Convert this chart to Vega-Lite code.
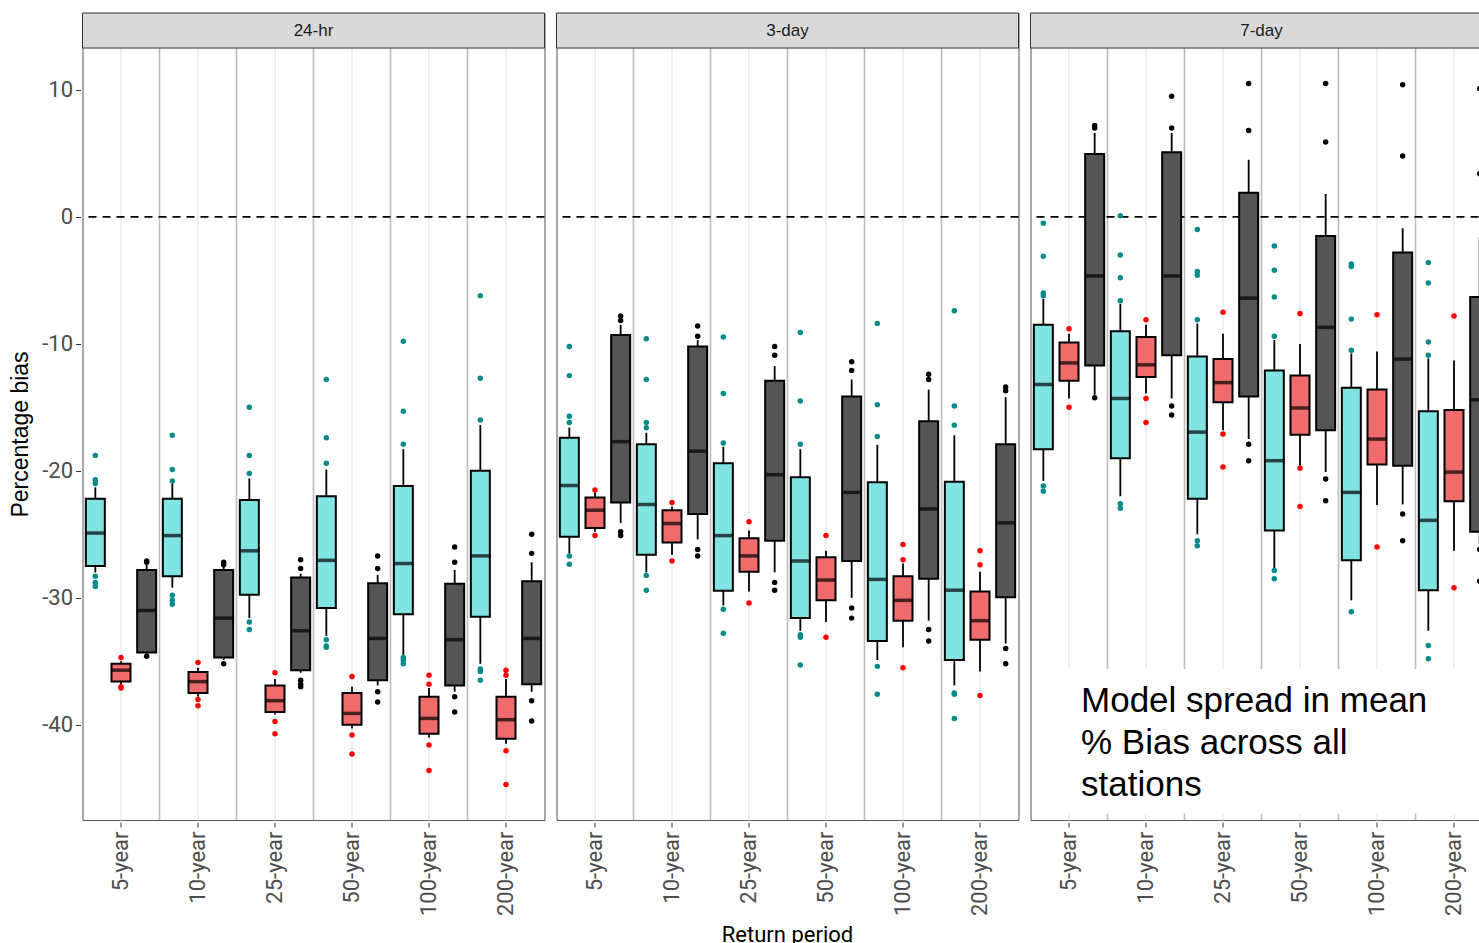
{
  "$schema": "https://vega.github.io/schema/vega-lite/v6.json",
  "padding": {"left": 9.5, "top": 12, "right": 0, "bottom": 0},
  "title": {"text": "Preliminary information", "orient": "bottom", "anchor": "end", "font": "Liberation Sans", "fontSize": 28, "fontWeight": "normal", "color": "#000000", "offset": -4, "dx": -8},
  "data": {"values": [
    {"kind":"strip","duration":"24-hr"},
    {"kind":"strip","duration":"3-day"},
    {"kind":"strip","duration":"7-day"},
    {"kind":"note","duration":"7-day","label":["Model spread in mean","% Bias across all","stations"]},

    {"kind":"box","duration":"24-hr","period":"5-year","model":"M1","lower":-28.0,"q1":-27.5,"median":-24.9,"q3":-22.2,"upper":-21.3},
    {"kind":"box","duration":"24-hr","period":"5-year","model":"M2","lower":-36.8,"q1":-36.6,"median":-35.7,"q3":-35.2,"upper":-35.0},
    {"kind":"box","duration":"24-hr","period":"5-year","model":"M3","lower":-34.4,"q1":-34.3,"median":-31.0,"q3":-27.8,"upper":-27.4},
    {"kind":"box","duration":"24-hr","period":"10-year","model":"M1","lower":-29.2,"q1":-28.3,"median":-25.1,"q3":-22.2,"upper":-21.0},
    {"kind":"box","duration":"24-hr","period":"10-year","model":"M2","lower":-37.8,"q1":-37.5,"median":-36.6,"q3":-35.85,"upper":-35.5},
    {"kind":"box","duration":"24-hr","period":"10-year","model":"M3","lower":-34.9,"q1":-34.7,"median":-31.6,"q3":-27.8,"upper":-27.5},
    {"kind":"box","duration":"24-hr","period":"25-year","model":"M1","lower":-31.6,"q1":-29.75,"median":-26.3,"q3":-22.3,"upper":-20.6},
    {"kind":"box","duration":"24-hr","period":"25-year","model":"M2","lower":-39.2,"q1":-39.0,"median":-38.1,"q3":-36.9,"upper":-36.4},
    {"kind":"box","duration":"24-hr","period":"25-year","model":"M3","lower":-35.9,"q1":-35.7,"median":-32.6,"q3":-28.4,"upper":-28.1},
    {"kind":"box","duration":"24-hr","period":"50-year","model":"M1","lower":-33.0,"q1":-30.8,"median":-27.05,"q3":-22.0,"upper":-19.9},
    {"kind":"box","duration":"24-hr","period":"50-year","model":"M2","lower":-40.3,"q1":-40.0,"median":-39.1,"q3":-37.5,"upper":-37.0},
    {"kind":"box","duration":"24-hr","period":"50-year","model":"M3","lower":-36.9,"q1":-36.5,"median":-33.2,"q3":-28.85,"upper":-28.2},
    {"kind":"box","duration":"24-hr","period":"100-year","model":"M1","lower":-34.5,"q1":-31.3,"median":-27.3,"q3":-21.2,"upper":-18.3},
    {"kind":"box","duration":"24-hr","period":"100-year","model":"M2","lower":-41.0,"q1":-40.7,"median":-39.5,"q3":-37.8,"upper":-37.1},
    {"kind":"box","duration":"24-hr","period":"100-year","model":"M3","lower":-37.4,"q1":-36.9,"median":-33.3,"q3":-28.9,"upper":-27.8},
    {"kind":"box","duration":"24-hr","period":"200-year","model":"M1","lower":-35.2,"q1":-31.5,"median":-26.7,"q3":-20.0,"upper":-16.4},
    {"kind":"box","duration":"24-hr","period":"200-year","model":"M2","lower":-41.5,"q1":-41.1,"median":-39.6,"q3":-37.8,"upper":-36.4},
    {"kind":"box","duration":"24-hr","period":"200-year","model":"M3","lower":-37.4,"q1":-36.8,"median":-33.2,"q3":-28.7,"upper":-27.2},

    {"kind":"box","duration":"3-day","period":"5-year","model":"M1","lower":-26.5,"q1":-25.2,"median":-21.15,"q3":-17.4,"upper":-16.6},
    {"kind":"box","duration":"3-day","period":"5-year","model":"M2","lower":-24.8,"q1":-24.5,"median":-23.1,"q3":-22.1,"upper":-21.7},
    {"kind":"box","duration":"3-day","period":"5-year","model":"M3","lower":-24.1,"q1":-22.5,"median":-17.7,"q3":-9.3,"upper":-8.5},
    {"kind":"box","duration":"3-day","period":"10-year","model":"M1","lower":-28.0,"q1":-26.6,"median":-22.65,"q3":-17.9,"upper":-17.0},
    {"kind":"box","duration":"3-day","period":"10-year","model":"M2","lower":-26.6,"q1":-25.65,"median":-24.15,"q3":-23.1,"upper":-22.8},
    {"kind":"box","duration":"3-day","period":"10-year","model":"M3","lower":-25.4,"q1":-23.4,"median":-18.45,"q3":-10.2,"upper":-9.7},
    {"kind":"box","duration":"3-day","period":"25-year","model":"M1","lower":-30.6,"q1":-29.45,"median":-25.1,"q3":-19.4,"upper":-18.1},
    {"kind":"box","duration":"3-day","period":"25-year","model":"M2","lower":-29.5,"q1":-27.95,"median":-26.7,"q3":-25.3,"upper":-24.7},
    {"kind":"box","duration":"3-day","period":"25-year","model":"M3","lower":-28.0,"q1":-25.5,"median":-20.3,"q3":-12.9,"upper":-11.75},
    {"kind":"box","duration":"3-day","period":"50-year","model":"M1","lower":-32.6,"q1":-31.6,"median":-27.1,"q3":-20.5,"upper":-18.3},
    {"kind":"box","duration":"3-day","period":"50-year","model":"M2","lower":-31.9,"q1":-30.2,"median":-28.6,"q3":-26.8,"upper":-26.3},
    {"kind":"box","duration":"3-day","period":"50-year","model":"M3","lower":-30.0,"q1":-27.1,"median":-21.7,"q3":-14.15,"upper":-12.8},
    {"kind":"box","duration":"3-day","period":"100-year","model":"M1","lower":-34.9,"q1":-33.4,"median":-28.55,"q3":-20.9,"upper":-17.95},
    {"kind":"box","duration":"3-day","period":"100-year","model":"M2","lower":-33.9,"q1":-31.8,"median":-30.2,"q3":-28.3,"upper":-27.3},
    {"kind":"box","duration":"3-day","period":"100-year","model":"M3","lower":-31.8,"q1":-28.5,"median":-23.0,"q3":-16.1,"upper":-13.6},
    {"kind":"box","duration":"3-day","period":"200-year","model":"M1","lower":-36.9,"q1":-34.9,"median":-29.4,"q3":-20.85,"upper":-17.2},
    {"kind":"box","duration":"3-day","period":"200-year","model":"M2","lower":-35.8,"q1":-33.3,"median":-31.8,"q3":-29.5,"upper":-27.95},
    {"kind":"box","duration":"3-day","period":"200-year","model":"M3","lower":-33.6,"q1":-29.95,"median":-24.1,"q3":-17.9,"upper":-14.2},

    {"kind":"box","duration":"7-day","period":"5-year","model":"M1","lower":-20.8,"q1":-18.3,"median":-13.2,"q3":-8.5,"upper":-6.45},
    {"kind":"box","duration":"7-day","period":"5-year","model":"M2","lower":-14.3,"q1":-12.9,"median":-11.5,"q3":-9.9,"upper":-9.2},
    {"kind":"box","duration":"7-day","period":"5-year","model":"M3","lower":-14.0,"q1":-11.7,"median":-4.65,"q3":4.96,"upper":6.6},
    {"kind":"box","duration":"7-day","period":"10-year","model":"M1","lower":-22.0,"q1":-19.0,"median":-14.3,"q3":-9.0,"upper":-6.85},
    {"kind":"box","duration":"7-day","period":"10-year","model":"M2","lower":-13.9,"q1":-12.6,"median":-11.65,"q3":-9.45,"upper":-8.5},
    {"kind":"box","duration":"7-day","period":"10-year","model":"M3","lower":-14.3,"q1":-10.9,"median":-4.65,"q3":5.1,"upper":6.6},
    {"kind":"box","duration":"7-day","period":"25-year","model":"M1","lower":-25.0,"q1":-22.2,"median":-16.95,"q3":-11.0,"upper":-8.4},
    {"kind":"box","duration":"7-day","period":"25-year","model":"M2","lower":-16.8,"q1":-14.6,"median":-13.05,"q3":-11.2,"upper":-9.2},
    {"kind":"box","duration":"7-day","period":"25-year","model":"M3","lower":-17.5,"q1":-14.15,"median":-6.4,"q3":1.9,"upper":4.5},
    {"kind":"box","duration":"7-day","period":"50-year","model":"M1","lower":-27.65,"q1":-24.7,"median":-19.2,"q3":-12.1,"upper":-9.7},
    {"kind":"box","duration":"7-day","period":"50-year","model":"M2","lower":-19.6,"q1":-17.15,"median":-15.05,"q3":-12.5,"upper":-10.0},
    {"kind":"box","duration":"7-day","period":"50-year","model":"M3","lower":-20.1,"q1":-16.8,"median":-8.7,"q3":-1.5,"upper":1.8},
    {"kind":"box","duration":"7-day","period":"100-year","model":"M1","lower":-30.2,"q1":-27.05,"median":-21.7,"q3":-13.45,"upper":-10.75},
    {"kind":"box","duration":"7-day","period":"100-year","model":"M2","lower":-22.7,"q1":-19.5,"median":-17.5,"q3":-13.6,"upper":-10.6},
    {"kind":"box","duration":"7-day","period":"100-year","model":"M3","lower":-22.65,"q1":-19.6,"median":-11.2,"q3":-2.8,"upper":-0.9},
    {"kind":"box","duration":"7-day","period":"200-year","model":"M1","lower":-32.6,"q1":-29.4,"median":-23.9,"q3":-15.3,"upper":-11.15},
    {"kind":"box","duration":"7-day","period":"200-year","model":"M2","lower":-26.3,"q1":-22.4,"median":-20.1,"q3":-15.2,"upper":-11.3},
    {"kind":"box","duration":"7-day","period":"200-year","model":"M3","lower":-25.8,"q1":-24.8,"median":-14.4,"q3":-6.3,"upper":-1.6},

    {"kind":"out","duration":"24-hr","period":"5-year","model":"M1","value":-18.8},
    {"kind":"out","duration":"24-hr","period":"5-year","model":"M1","value":-20.7},
    {"kind":"out","duration":"24-hr","period":"5-year","model":"M1","value":-21.0},
    {"kind":"out","duration":"24-hr","period":"5-year","model":"M1","value":-28.3},
    {"kind":"out","duration":"24-hr","period":"5-year","model":"M1","value":-28.8},
    {"kind":"out","duration":"24-hr","period":"5-year","model":"M1","value":-29.1},
    {"kind":"out","duration":"24-hr","period":"5-year","model":"M2","value":-34.7},
    {"kind":"out","duration":"24-hr","period":"5-year","model":"M2","value":-37.0},
    {"kind":"out","duration":"24-hr","period":"5-year","model":"M2","value":-37.1},
    {"kind":"out","duration":"24-hr","period":"5-year","model":"M3","value":-27.1},
    {"kind":"out","duration":"24-hr","period":"5-year","model":"M3","value":-27.2},
    {"kind":"out","duration":"24-hr","period":"5-year","model":"M3","value":-34.6},
    {"kind":"out","duration":"24-hr","period":"10-year","model":"M1","value":-17.2},
    {"kind":"out","duration":"24-hr","period":"10-year","model":"M1","value":-19.9},
    {"kind":"out","duration":"24-hr","period":"10-year","model":"M1","value":-20.8},
    {"kind":"out","duration":"24-hr","period":"10-year","model":"M1","value":-29.8},
    {"kind":"out","duration":"24-hr","period":"10-year","model":"M1","value":-30.2},
    {"kind":"out","duration":"24-hr","period":"10-year","model":"M1","value":-30.5},
    {"kind":"out","duration":"24-hr","period":"10-year","model":"M2","value":-35.1},
    {"kind":"out","duration":"24-hr","period":"10-year","model":"M2","value":-38.0},
    {"kind":"out","duration":"24-hr","period":"10-year","model":"M2","value":-38.5},
    {"kind":"out","duration":"24-hr","period":"10-year","model":"M3","value":-27.2},
    {"kind":"out","duration":"24-hr","period":"10-year","model":"M3","value":-27.4},
    {"kind":"out","duration":"24-hr","period":"10-year","model":"M3","value":-35.2},
    {"kind":"out","duration":"24-hr","period":"25-year","model":"M1","value":-15.0},
    {"kind":"out","duration":"24-hr","period":"25-year","model":"M1","value":-18.8},
    {"kind":"out","duration":"24-hr","period":"25-year","model":"M1","value":-20.2},
    {"kind":"out","duration":"24-hr","period":"25-year","model":"M1","value":-31.9},
    {"kind":"out","duration":"24-hr","period":"25-year","model":"M1","value":-32.5},
    {"kind":"out","duration":"24-hr","period":"25-year","model":"M2","value":-35.9},
    {"kind":"out","duration":"24-hr","period":"25-year","model":"M2","value":-39.75},
    {"kind":"out","duration":"24-hr","period":"25-year","model":"M2","value":-40.7},
    {"kind":"out","duration":"24-hr","period":"25-year","model":"M3","value":-27.0},
    {"kind":"out","duration":"24-hr","period":"25-year","model":"M3","value":-27.7},
    {"kind":"out","duration":"24-hr","period":"25-year","model":"M3","value":-36.5},
    {"kind":"out","duration":"24-hr","period":"25-year","model":"M3","value":-36.8},
    {"kind":"out","duration":"24-hr","period":"25-year","model":"M3","value":-37.0},
    {"kind":"out","duration":"24-hr","period":"50-year","model":"M1","value":-12.8},
    {"kind":"out","duration":"24-hr","period":"50-year","model":"M1","value":-17.4},
    {"kind":"out","duration":"24-hr","period":"50-year","model":"M1","value":-19.4},
    {"kind":"out","duration":"24-hr","period":"50-year","model":"M1","value":-33.3},
    {"kind":"out","duration":"24-hr","period":"50-year","model":"M1","value":-33.8},
    {"kind":"out","duration":"24-hr","period":"50-year","model":"M1","value":-33.9},
    {"kind":"out","duration":"24-hr","period":"50-year","model":"M2","value":-36.2},
    {"kind":"out","duration":"24-hr","period":"50-year","model":"M2","value":-40.8},
    {"kind":"out","duration":"24-hr","period":"50-year","model":"M2","value":-42.3},
    {"kind":"out","duration":"24-hr","period":"50-year","model":"M3","value":-26.7},
    {"kind":"out","duration":"24-hr","period":"50-year","model":"M3","value":-27.7},
    {"kind":"out","duration":"24-hr","period":"50-year","model":"M3","value":-37.4},
    {"kind":"out","duration":"24-hr","period":"50-year","model":"M3","value":-38.2},
    {"kind":"out","duration":"24-hr","period":"100-year","model":"M1","value":-9.8},
    {"kind":"out","duration":"24-hr","period":"100-year","model":"M1","value":-15.3},
    {"kind":"out","duration":"24-hr","period":"100-year","model":"M1","value":-17.9},
    {"kind":"out","duration":"24-hr","period":"100-year","model":"M1","value":-34.7},
    {"kind":"out","duration":"24-hr","period":"100-year","model":"M1","value":-34.9},
    {"kind":"out","duration":"24-hr","period":"100-year","model":"M1","value":-35.2},
    {"kind":"out","duration":"24-hr","period":"100-year","model":"M2","value":-36.1},
    {"kind":"out","duration":"24-hr","period":"100-year","model":"M2","value":-36.8},
    {"kind":"out","duration":"24-hr","period":"100-year","model":"M2","value":-41.6},
    {"kind":"out","duration":"24-hr","period":"100-year","model":"M2","value":-43.6},
    {"kind":"out","duration":"24-hr","period":"100-year","model":"M3","value":-26.0},
    {"kind":"out","duration":"24-hr","period":"100-year","model":"M3","value":-27.2},
    {"kind":"out","duration":"24-hr","period":"100-year","model":"M3","value":-37.8},
    {"kind":"out","duration":"24-hr","period":"100-year","model":"M3","value":-39.0},
    {"kind":"out","duration":"24-hr","period":"200-year","model":"M1","value":-6.2},
    {"kind":"out","duration":"24-hr","period":"200-year","model":"M1","value":-12.7},
    {"kind":"out","duration":"24-hr","period":"200-year","model":"M1","value":-16.0},
    {"kind":"out","duration":"24-hr","period":"200-year","model":"M1","value":-35.6},
    {"kind":"out","duration":"24-hr","period":"200-year","model":"M1","value":-35.8},
    {"kind":"out","duration":"24-hr","period":"200-year","model":"M1","value":-36.5},
    {"kind":"out","duration":"24-hr","period":"200-year","model":"M2","value":-35.7},
    {"kind":"out","duration":"24-hr","period":"200-year","model":"M2","value":-36.1},
    {"kind":"out","duration":"24-hr","period":"200-year","model":"M2","value":-42.05},
    {"kind":"out","duration":"24-hr","period":"200-year","model":"M2","value":-44.7},
    {"kind":"out","duration":"24-hr","period":"200-year","model":"M3","value":-25.0},
    {"kind":"out","duration":"24-hr","period":"200-year","model":"M3","value":-26.5},
    {"kind":"out","duration":"24-hr","period":"200-year","model":"M3","value":-38.1},
    {"kind":"out","duration":"24-hr","period":"200-year","model":"M3","value":-39.7},

    {"kind":"out","duration":"3-day","period":"5-year","model":"M1","value":-10.2},
    {"kind":"out","duration":"3-day","period":"5-year","model":"M1","value":-12.5},
    {"kind":"out","duration":"3-day","period":"5-year","model":"M1","value":-15.7},
    {"kind":"out","duration":"3-day","period":"5-year","model":"M1","value":-16.2},
    {"kind":"out","duration":"3-day","period":"5-year","model":"M1","value":-26.7},
    {"kind":"out","duration":"3-day","period":"5-year","model":"M1","value":-27.35},
    {"kind":"out","duration":"3-day","period":"5-year","model":"M2","value":-21.5},
    {"kind":"out","duration":"3-day","period":"5-year","model":"M2","value":-25.1},
    {"kind":"out","duration":"3-day","period":"5-year","model":"M3","value":-7.8},
    {"kind":"out","duration":"3-day","period":"5-year","model":"M3","value":-8.15},
    {"kind":"out","duration":"3-day","period":"5-year","model":"M3","value":-24.8},
    {"kind":"out","duration":"3-day","period":"5-year","model":"M3","value":-25.1},
    {"kind":"out","duration":"3-day","period":"10-year","model":"M1","value":-9.6},
    {"kind":"out","duration":"3-day","period":"10-year","model":"M1","value":-12.8},
    {"kind":"out","duration":"3-day","period":"10-year","model":"M1","value":-16.2},
    {"kind":"out","duration":"3-day","period":"10-year","model":"M1","value":-16.6},
    {"kind":"out","duration":"3-day","period":"10-year","model":"M1","value":-28.25},
    {"kind":"out","duration":"3-day","period":"10-year","model":"M1","value":-29.4},
    {"kind":"out","duration":"3-day","period":"10-year","model":"M2","value":-22.5},
    {"kind":"out","duration":"3-day","period":"10-year","model":"M2","value":-27.1},
    {"kind":"out","duration":"3-day","period":"10-year","model":"M3","value":-8.6},
    {"kind":"out","duration":"3-day","period":"10-year","model":"M3","value":-9.4},
    {"kind":"out","duration":"3-day","period":"10-year","model":"M3","value":-26.2},
    {"kind":"out","duration":"3-day","period":"10-year","model":"M3","value":-26.7},
    {"kind":"out","duration":"3-day","period":"25-year","model":"M1","value":-9.45},
    {"kind":"out","duration":"3-day","period":"25-year","model":"M1","value":-13.9},
    {"kind":"out","duration":"3-day","period":"25-year","model":"M1","value":-17.8},
    {"kind":"out","duration":"3-day","period":"25-year","model":"M1","value":-30.9},
    {"kind":"out","duration":"3-day","period":"25-year","model":"M1","value":-32.8},
    {"kind":"out","duration":"3-day","period":"25-year","model":"M2","value":-24.0},
    {"kind":"out","duration":"3-day","period":"25-year","model":"M2","value":-30.4},
    {"kind":"out","duration":"3-day","period":"25-year","model":"M3","value":-10.2},
    {"kind":"out","duration":"3-day","period":"25-year","model":"M3","value":-10.9},
    {"kind":"out","duration":"3-day","period":"25-year","model":"M3","value":-28.8},
    {"kind":"out","duration":"3-day","period":"25-year","model":"M3","value":-29.4},
    {"kind":"out","duration":"3-day","period":"50-year","model":"M1","value":-9.1},
    {"kind":"out","duration":"3-day","period":"50-year","model":"M1","value":-14.5},
    {"kind":"out","duration":"3-day","period":"50-year","model":"M1","value":-17.9},
    {"kind":"out","duration":"3-day","period":"50-year","model":"M1","value":-32.9},
    {"kind":"out","duration":"3-day","period":"50-year","model":"M1","value":-33.1},
    {"kind":"out","duration":"3-day","period":"50-year","model":"M1","value":-35.3},
    {"kind":"out","duration":"3-day","period":"50-year","model":"M2","value":-25.1},
    {"kind":"out","duration":"3-day","period":"50-year","model":"M2","value":-33.1},
    {"kind":"out","duration":"3-day","period":"50-year","model":"M3","value":-11.4},
    {"kind":"out","duration":"3-day","period":"50-year","model":"M3","value":-12.1},
    {"kind":"out","duration":"3-day","period":"50-year","model":"M3","value":-30.8},
    {"kind":"out","duration":"3-day","period":"50-year","model":"M3","value":-31.6},
    {"kind":"out","duration":"3-day","period":"100-year","model":"M1","value":-8.4},
    {"kind":"out","duration":"3-day","period":"100-year","model":"M1","value":-14.8},
    {"kind":"out","duration":"3-day","period":"100-year","model":"M1","value":-17.3},
    {"kind":"out","duration":"3-day","period":"100-year","model":"M1","value":-35.4},
    {"kind":"out","duration":"3-day","period":"100-year","model":"M1","value":-37.6},
    {"kind":"out","duration":"3-day","period":"100-year","model":"M2","value":-25.8},
    {"kind":"out","duration":"3-day","period":"100-year","model":"M2","value":-27.0},
    {"kind":"out","duration":"3-day","period":"100-year","model":"M2","value":-35.5},
    {"kind":"out","duration":"3-day","period":"100-year","model":"M3","value":-12.4},
    {"kind":"out","duration":"3-day","period":"100-year","model":"M3","value":-12.8},
    {"kind":"out","duration":"3-day","period":"100-year","model":"M3","value":-32.5},
    {"kind":"out","duration":"3-day","period":"100-year","model":"M3","value":-33.4},
    {"kind":"out","duration":"3-day","period":"200-year","model":"M1","value":-7.4},
    {"kind":"out","duration":"3-day","period":"200-year","model":"M1","value":-14.9},
    {"kind":"out","duration":"3-day","period":"200-year","model":"M1","value":-16.4},
    {"kind":"out","duration":"3-day","period":"200-year","model":"M1","value":-37.5},
    {"kind":"out","duration":"3-day","period":"200-year","model":"M1","value":-37.6},
    {"kind":"out","duration":"3-day","period":"200-year","model":"M1","value":-39.5},
    {"kind":"out","duration":"3-day","period":"200-year","model":"M2","value":-26.3},
    {"kind":"out","duration":"3-day","period":"200-year","model":"M2","value":-27.4},
    {"kind":"out","duration":"3-day","period":"200-year","model":"M2","value":-37.7},
    {"kind":"out","duration":"3-day","period":"200-year","model":"M3","value":-13.4},
    {"kind":"out","duration":"3-day","period":"200-year","model":"M3","value":-13.7},
    {"kind":"out","duration":"3-day","period":"200-year","model":"M3","value":-34.0},
    {"kind":"out","duration":"3-day","period":"200-year","model":"M3","value":-35.2},

    {"kind":"out","duration":"7-day","period":"5-year","model":"M1","value":-0.5},
    {"kind":"out","duration":"7-day","period":"5-year","model":"M1","value":-3.1},
    {"kind":"out","duration":"7-day","period":"5-year","model":"M1","value":-6.0},
    {"kind":"out","duration":"7-day","period":"5-year","model":"M1","value":-6.2},
    {"kind":"out","duration":"7-day","period":"5-year","model":"M1","value":-21.2},
    {"kind":"out","duration":"7-day","period":"5-year","model":"M1","value":-21.6},
    {"kind":"out","duration":"7-day","period":"5-year","model":"M2","value":-8.8},
    {"kind":"out","duration":"7-day","period":"5-year","model":"M2","value":-15.0},
    {"kind":"out","duration":"7-day","period":"5-year","model":"M3","value":7.0},
    {"kind":"out","duration":"7-day","period":"5-year","model":"M3","value":7.2},
    {"kind":"out","duration":"7-day","period":"5-year","model":"M3","value":-14.25},
    {"kind":"out","duration":"7-day","period":"10-year","model":"M1","value":0.1},
    {"kind":"out","duration":"7-day","period":"10-year","model":"M1","value":-3.0},
    {"kind":"out","duration":"7-day","period":"10-year","model":"M1","value":-4.8},
    {"kind":"out","duration":"7-day","period":"10-year","model":"M1","value":-6.6},
    {"kind":"out","duration":"7-day","period":"10-year","model":"M1","value":-22.6},
    {"kind":"out","duration":"7-day","period":"10-year","model":"M1","value":-22.95},
    {"kind":"out","duration":"7-day","period":"10-year","model":"M2","value":-8.1},
    {"kind":"out","duration":"7-day","period":"10-year","model":"M2","value":-14.3},
    {"kind":"out","duration":"7-day","period":"10-year","model":"M2","value":-16.2},
    {"kind":"out","duration":"7-day","period":"10-year","model":"M3","value":7.0},
    {"kind":"out","duration":"7-day","period":"10-year","model":"M3","value":9.5},
    {"kind":"out","duration":"7-day","period":"10-year","model":"M3","value":-14.9},
    {"kind":"out","duration":"7-day","period":"10-year","model":"M3","value":-15.6},
    {"kind":"out","duration":"7-day","period":"25-year","model":"M1","value":-1.0},
    {"kind":"out","duration":"7-day","period":"25-year","model":"M1","value":-4.3},
    {"kind":"out","duration":"7-day","period":"25-year","model":"M1","value":-4.6},
    {"kind":"out","duration":"7-day","period":"25-year","model":"M1","value":-8.1},
    {"kind":"out","duration":"7-day","period":"25-year","model":"M1","value":-25.5},
    {"kind":"out","duration":"7-day","period":"25-year","model":"M1","value":-25.9},
    {"kind":"out","duration":"7-day","period":"25-year","model":"M2","value":-7.5},
    {"kind":"out","duration":"7-day","period":"25-year","model":"M2","value":-17.1},
    {"kind":"out","duration":"7-day","period":"25-year","model":"M2","value":-19.7},
    {"kind":"out","duration":"7-day","period":"25-year","model":"M3","value":6.8},
    {"kind":"out","duration":"7-day","period":"25-year","model":"M3","value":10.5},
    {"kind":"out","duration":"7-day","period":"25-year","model":"M3","value":-17.9},
    {"kind":"out","duration":"7-day","period":"25-year","model":"M3","value":-19.2},
    {"kind":"out","duration":"7-day","period":"50-year","model":"M1","value":-2.3},
    {"kind":"out","duration":"7-day","period":"50-year","model":"M1","value":-4.2},
    {"kind":"out","duration":"7-day","period":"50-year","model":"M1","value":-6.3},
    {"kind":"out","duration":"7-day","period":"50-year","model":"M1","value":-9.4},
    {"kind":"out","duration":"7-day","period":"50-year","model":"M1","value":-27.85},
    {"kind":"out","duration":"7-day","period":"50-year","model":"M1","value":-28.5},
    {"kind":"out","duration":"7-day","period":"50-year","model":"M2","value":-7.6},
    {"kind":"out","duration":"7-day","period":"50-year","model":"M2","value":-19.8},
    {"kind":"out","duration":"7-day","period":"50-year","model":"M2","value":-22.8},
    {"kind":"out","duration":"7-day","period":"50-year","model":"M3","value":5.9},
    {"kind":"out","duration":"7-day","period":"50-year","model":"M3","value":10.5},
    {"kind":"out","duration":"7-day","period":"50-year","model":"M3","value":-20.65},
    {"kind":"out","duration":"7-day","period":"50-year","model":"M3","value":-22.35},
    {"kind":"out","duration":"7-day","period":"100-year","model":"M1","value":-3.7},
    {"kind":"out","duration":"7-day","period":"100-year","model":"M1","value":-3.9},
    {"kind":"out","duration":"7-day","period":"100-year","model":"M1","value":-8.05},
    {"kind":"out","duration":"7-day","period":"100-year","model":"M1","value":-10.5},
    {"kind":"out","duration":"7-day","period":"100-year","model":"M1","value":-31.1},
    {"kind":"out","duration":"7-day","period":"100-year","model":"M2","value":-7.7},
    {"kind":"out","duration":"7-day","period":"100-year","model":"M2","value":-26.0},
    {"kind":"out","duration":"7-day","period":"100-year","model":"M3","value":4.8},
    {"kind":"out","duration":"7-day","period":"100-year","model":"M3","value":10.4},
    {"kind":"out","duration":"7-day","period":"100-year","model":"M3","value":-23.4},
    {"kind":"out","duration":"7-day","period":"100-year","model":"M3","value":-25.5},
    {"kind":"out","duration":"7-day","period":"200-year","model":"M1","value":-3.6},
    {"kind":"out","duration":"7-day","period":"200-year","model":"M1","value":-5.2},
    {"kind":"out","duration":"7-day","period":"200-year","model":"M1","value":-9.85},
    {"kind":"out","duration":"7-day","period":"200-year","model":"M1","value":-10.9},
    {"kind":"out","duration":"7-day","period":"200-year","model":"M1","value":-33.75},
    {"kind":"out","duration":"7-day","period":"200-year","model":"M1","value":-34.8},
    {"kind":"out","duration":"7-day","period":"200-year","model":"M2","value":-7.8},
    {"kind":"out","duration":"7-day","period":"200-year","model":"M2","value":-29.2},
    {"kind":"out","duration":"7-day","period":"200-year","model":"M3","value":3.4},
    {"kind":"out","duration":"7-day","period":"200-year","model":"M3","value":10.1},
    {"kind":"out","duration":"7-day","period":"200-year","model":"M3","value":-26.2},
    {"kind":"out","duration":"7-day","period":"200-year","model":"M3","value":-28.7}
  ]},
  "facet": {
    "column": {
      "field": "duration", "type": "nominal", "sort": ["24-hr", "3-day", "7-day"],
      "header": {"labels": false, "title": "Return period", "titleOrient": "bottom", "titleFont": "Roboto", "titleFontSize": 22, "titleFontWeight": "normal", "titleColor": "#000000", "titlePadding": -1}
    }
  },
  "spacing": 8,
  "spec": {
    "width": 462,
    "height": 807,
    "encoding": {
      "x": {
        "field": "period", "type": "nominal",
        "scale": {"domain": ["5-year", "10-year", "25-year", "50-year", "100-year", "200-year"], "paddingInner": 0, "paddingOuter": 0},
        "axis": {"title": null, "labelAngle": -90, "labelAlign": "right", "labelBaseline": "middle", "labelFont": "Roboto", "labelFontSize": 22, "labelColor": "#4d4d4d", "labelPadding": 4, "tickSize": 5, "tickColor": "#333333", "domain": false, "grid": true, "gridColor": "#e6e6e6", "gridWidth": 1.2, "bandPosition": 0.5, "labelOverlap": false}
      },
      "y": {
        "type": "quantitative",
        "scale": {"domain": [-47.5, 16.06], "nice": false, "zero": false},
        "axis": {
          "title": "Percentage bias", "titleFont": "Liberation Sans", "titleFontSize": 23, "titleFontWeight": "normal", "titleColor": "#000000", "titlePadding": 9, "titleY": 421,
          "values": [-45, -40, -35, -30, -25, -20, -15, -10, -5, 0, 5, 10],
          "labelExpr": "datum.value % 10 === 0 ? '' + datum.value : ''",
          "labelFont": "Roboto", "labelFontSize": 22, "labelColor": "#4d4d4d", "labelPadding": 3, "labelOverlap": false,
          "tickSize": 5, "tickColor": "#333333",
          "tickOpacity": {"condition": {"test": "datum.value % 10 === 0", "value": 1}, "value": 0},
          "gridColor": "#ebebeb",
          "gridWidth": {"condition": {"test": "datum.value % 10 === 0", "value": 1.2}, "value": 0.6},
          "domain": false
        }
      }
    },
    "layer": [
      {
        "transform": [{"filter": "datum.kind === 'box' && datum.model === 'M1' && datum.period !== '200-year'"}],
        "mark": {"type": "rule", "color": "#bdbdbd", "strokeWidth": 1.6},
        "encoding": {
          "x": {"field": "period", "type": "nominal", "bandPosition": 1},
          "y": {"datum": -47.5},
          "y2": {"datum": 13.3}
        }
      },
      {
        "transform": [{"filter": "datum.kind === 'strip'"}],
        "mark": {"type": "rule", "color": "#000000", "strokeWidth": 1.8, "strokeDash": [8, 6]},
        "encoding": {"x": null, "y": {"datum": 0}}
      },
      {
        "transform": [{"filter": "datum.kind === 'box'"}],
        "mark": {"type": "rule", "color": "#000000", "strokeWidth": 1.8},
        "encoding": {
          "xOffset": {"field": "model", "type": "nominal", "scale": {"domain": ["M1", "M2", "M3"], "paddingInner": 0.26, "paddingOuter": 0.13}},
          "y": {"field": "lower", "type": "quantitative"},
          "y2": {"field": "upper"}
        }
      },
      {
        "transform": [{"filter": "datum.kind === 'box'"}],
        "mark": {"type": "bar", "stroke": "#000000", "strokeWidth": 2},
        "encoding": {
          "xOffset": {"field": "model", "type": "nominal"},
          "y": {"field": "q1", "type": "quantitative"},
          "y2": {"field": "q3"},
          "fill": {"field": "model", "type": "nominal", "scale": {"domain": ["M1", "M2", "M3"], "range": ["#7fe4e2", "#f06b6b", "#555555"]}, "legend": null}
        }
      },
      {
        "transform": [{"filter": "datum.kind === 'box'"}],
        "mark": {"type": "tick", "color": "#000000", "size": 20, "thickness": 3.5, "orient": "horizontal"},
        "encoding": {
          "xOffset": {"field": "model", "type": "nominal"},
          "y": {"field": "median", "type": "quantitative"}
        }
      },
      {
        "transform": [{"filter": "datum.kind === 'out'"}],
        "mark": {"type": "circle", "size": 30, "opacity": 1},
        "encoding": {
          "xOffset": {"field": "model", "type": "nominal"},
          "y": {"field": "value", "type": "quantitative"},
          "color": {"field": "model", "type": "nominal", "scale": {"domain": ["M1", "M2", "M3"], "range": ["#008b8b", "#ff0000", "#000000"]}, "legend": null}
        }
      },
      {
        "transform": [{"filter": "datum.kind === 'strip'"}],
        "mark": {"type": "rect", "fill": "#d9d9d9", "stroke": "#333333", "strokeWidth": 1},
        "encoding": {"x": null, "y": {"datum": 13.3}, "y2": {"datum": 16.06}}
      },
      {
        "transform": [{"filter": "datum.kind === 'strip'"}],
        "mark": {"type": "text", "font": "Liberation Sans", "fontSize": 17, "color": "#1a1a1a", "baseline": "middle", "align": "center"},
        "encoding": {"x": null, "y": {"datum": 14.68}, "text": {"field": "duration"}}
      },
      {
        "transform": [{"filter": "datum.kind === 'note'"}],
        "mark": {"type": "rect", "fill": "#ffffff"},
        "encoding": {
          "x": {"datum": "5-year", "type": "nominal", "bandPosition": 0.43},
          "x2": {"datum": "200-year", "bandPosition": 0.67},
          "y": {"datum": -35.6},
          "y2": {"datum": -47.0}
        }
      },
      {
        "transform": [{"filter": "datum.kind === 'note'"}],
        "mark": {"type": "text", "font": "Liberation Sans", "fontSize": 35, "color": "#000000", "align": "left", "baseline": "alphabetic", "lineHeight": 42},
        "encoding": {
          "x": {"datum": "5-year", "type": "nominal", "bandPosition": 0.656},
          "y": {"datum": -39.0},
          "text": {"field": "label"}
        }
      }
    ]
  },
  "config": {
    "view": {"stroke": "#555555", "strokeWidth": 1},
    "background": "#ffffff"
  }
}
